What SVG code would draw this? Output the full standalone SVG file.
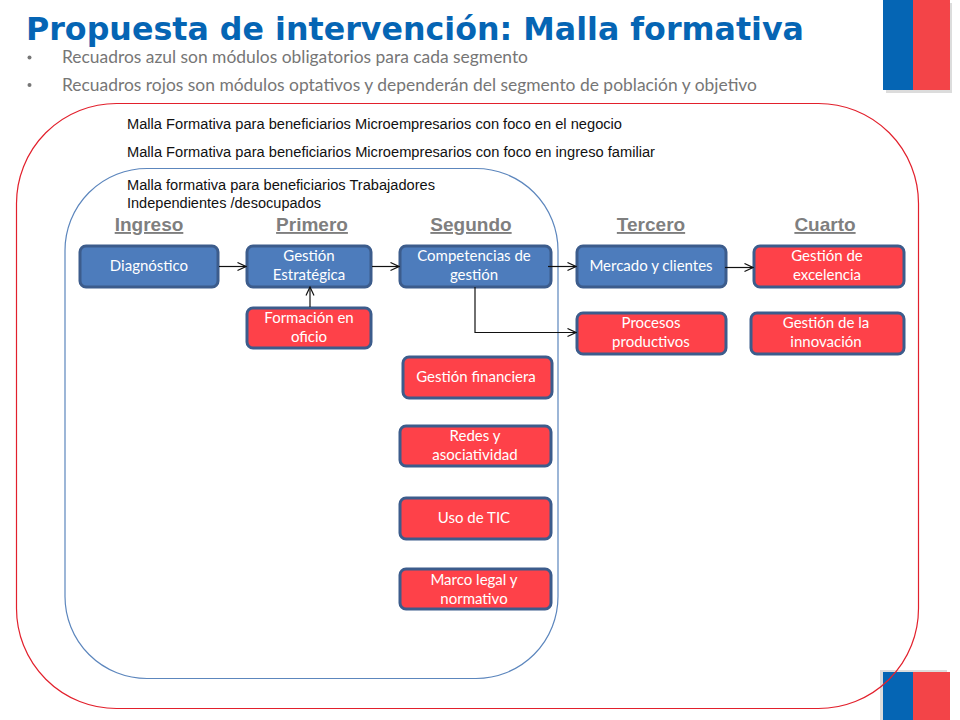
<svg xmlns="http://www.w3.org/2000/svg" width="960" height="720" viewBox="0 0 960 720">
<style>
.title{font:bold 32px "DejaVu Sans",sans-serif;fill:#0565b4}
.bul{font:17px Lato,"Noto Sans",sans-serif;fill:#767676}
.dot{fill:#767676}
.note{font:14px "Liberation Sans",Arial,sans-serif;fill:#111}
.head{font:bold 19px "Liberation Sans",Arial,sans-serif;fill:#7f7f7f;text-anchor:middle;text-decoration:underline}
.box{stroke:#3c5c8c;stroke-width:3}
.blue{fill:#4d7cbc}
.red{fill:#fe4149}
.lbl{font:15px Lato,"Noto Sans",sans-serif;fill:#fff;text-anchor:middle}
.con{fill:none;stroke:#111;stroke-width:1.2}
.ah{fill:none;stroke:#111;stroke-width:1.2}
</style>
<defs>
<marker id="a" markerWidth="10" markerHeight="10" refX="9" refY="5" orient="auto" markerUnits="userSpaceOnUse"><path class="ah" d="M0.5 1 L9 5 L0.5 9"/></marker>
</defs>
<rect width="960" height="720" fill="#fff"/>
<g id="flag-top">
<rect x="886" y="3" width="66" height="90" fill="#dcdcdc"/>
<rect x="883" y="0" width="30" height="90" fill="#0565b4"/>
<rect x="913" y="0" width="37" height="90" fill="#f34448"/>
</g>
<g id="flag-bottom">
<rect x="880" y="670" width="67" height="50" fill="#dcdcdc"/>
<rect x="883" y="672" width="30" height="48" fill="#0565b4"/>
<rect x="913" y="672" width="37" height="48" fill="#f34448"/>
</g>
<text class="title" x="26" y="40" textLength="778" lengthAdjust="spacingAndGlyphs">Propuesta de intervención: Malla formativa</text>
<circle class="dot" cx="29.500" cy="57.500" r="2"/>
<text class="bul" x="62" y="63" textLength="466" lengthAdjust="spacingAndGlyphs">Recuadros azul son módulos obligatorios para cada segmento</text>
<circle class="dot" cx="29.500" cy="85" r="2"/>
<text class="bul" x="62" y="91" textLength="695" lengthAdjust="spacingAndGlyphs">Recuadros rojos son módulos optativos y dependerán del segmento de población y objetivo</text>
<g id="outer-frame"><rect x="16.500" y="103.500" width="902" height="605" rx="100" ry="100" fill="none" stroke="#e2202c" stroke-width="1.200"/></g>
<g id="inner-frame"><rect x="65" y="168.500" width="493" height="510" rx="82" ry="82" fill="none" stroke="#5c86bd" stroke-width="1.200"/></g>
<text class="note" x="127" y="129" textLength="495" lengthAdjust="spacingAndGlyphs">Malla Formativa para beneficiarios Microempresarios con foco en el negocio</text>
<text class="note" x="127" y="157" textLength="528" lengthAdjust="spacingAndGlyphs">Malla Formativa para beneficiarios Microempresarios con foco en ingreso familiar</text>
<text class="note" x="127" y="190" textLength="308" lengthAdjust="spacingAndGlyphs">Malla formativa para beneficiarios Trabajadores</text>
<text class="note" x="127" y="208" textLength="194" lengthAdjust="spacingAndGlyphs">Independientes /desocupados</text>
<text class="head" x="149" y="231">Ingreso</text>
<text class="head" x="312" y="231">Primero</text>
<text class="head" x="471" y="231">Segundo</text>
<text class="head" x="651" y="231">Tercero</text>
<text class="head" x="825" y="231">Cuarto</text>
<g id="n-diagnostico"><rect class="box blue" x="80" y="246" width="138" height="41" rx="6"/><text class="lbl" x="149" y="271">Diagnóstico</text></g>
<g id="n-estrategica"><rect class="box blue" x="247" y="246" width="124" height="41" rx="6"/><text class="lbl" x="309" y="261">Gestión</text><text class="lbl" x="309" y="280">Estratégica</text></g>
<g id="n-competencias"><rect class="box blue" x="400" y="246" width="151" height="41" rx="6"/><text class="lbl" x="474" y="261">Competencias de</text><text class="lbl" x="474" y="280">gestión</text></g>
<g id="n-mercado"><rect class="box blue" x="577" y="246" width="149" height="41" rx="6"/><text class="lbl" x="651" y="271">Mercado y clientes</text></g>
<g id="n-excelencia"><rect class="box red" x="754" y="246" width="150" height="41" rx="6"/><text class="lbl" x="827" y="261">Gestión de</text><text class="lbl" x="827" y="280">excelencia</text></g>
<g id="n-oficio"><rect class="box red" x="247" y="308" width="124" height="40" rx="6"/><text class="lbl" x="309" y="323">Formación en</text><text class="lbl" x="309" y="342">oficio</text></g>
<g id="n-procesos"><rect class="box red" x="577" y="313" width="149" height="41" rx="6"/><text class="lbl" x="651" y="328">Procesos</text><text class="lbl" x="651" y="347">productivos</text></g>
<g id="n-innovacion"><rect class="box red" x="751" y="313" width="153" height="41" rx="6"/><text class="lbl" x="826" y="328">Gestión de la</text><text class="lbl" x="826" y="347">innovación</text></g>
<g id="n-financiera"><rect class="box red" x="403" y="357" width="149" height="41" rx="6"/><text class="lbl" x="476" y="382">Gestión financiera</text></g>
<g id="n-redes"><rect class="box red" x="400" y="426" width="151" height="40" rx="6"/><text class="lbl" x="475" y="441">Redes y</text><text class="lbl" x="475" y="460">asociatividad</text></g>
<g id="n-tic"><rect class="box red" x="400" y="498" width="151" height="41" rx="6"/><text class="lbl" x="474" y="523">Uso de TIC</text></g>
<g id="n-marco"><rect class="box red" x="400" y="569" width="151" height="40" rx="6"/><text class="lbl" x="474" y="585">Marco legal y</text><text class="lbl" x="474" y="604">normativo</text></g>
<g id="connectors">
<path class="con" marker-end="url(#a)" d="M219 266.500H246"/>
<path class="con" marker-end="url(#a)" d="M372 266.500H399"/>
<path class="con" marker-end="url(#a)" d="M548 266.500H576"/>
<path class="con" marker-end="url(#a)" d="M725 267.500H753"/>
<path class="con" marker-end="url(#a)" d="M310 307V287"/>
<path class="con" marker-end="url(#a)" d="M475 287V332.500H576"/>
</g>
</svg>
